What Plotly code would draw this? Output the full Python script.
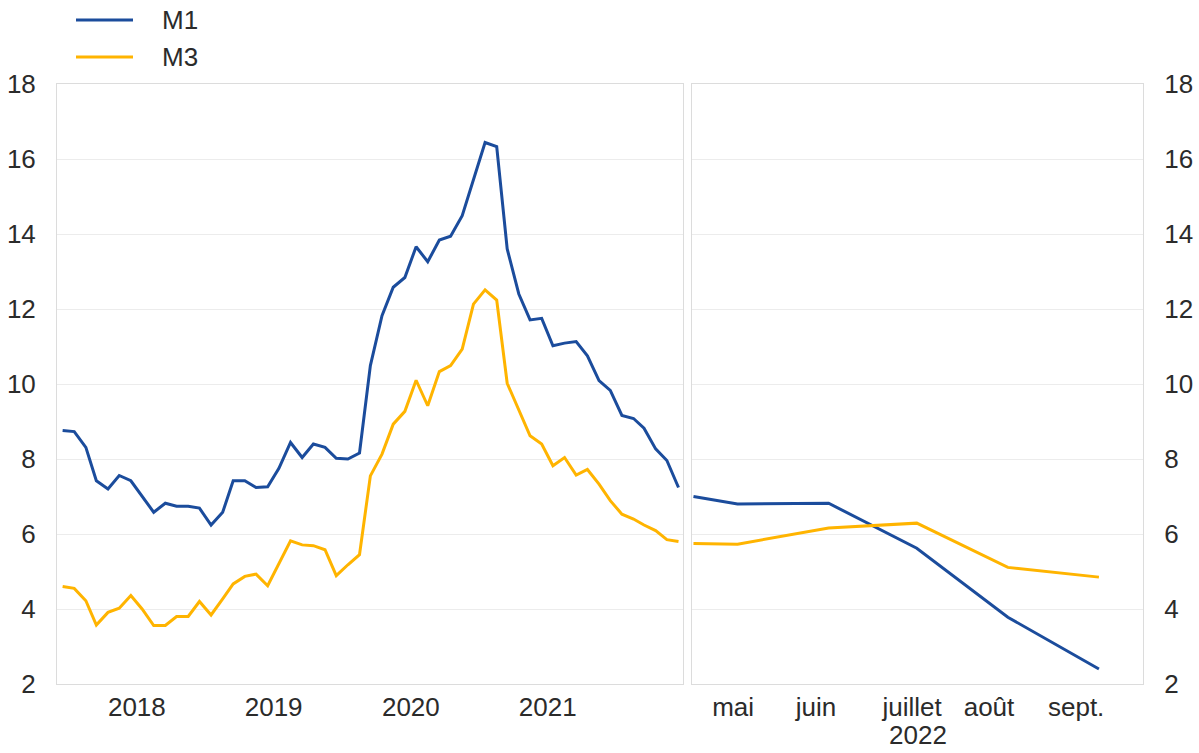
import pandas as pd
import plotly.graph_objects as go

# ---------------- data ----------------
left_months = pd.date_range("2017-12-01", "2022-06-01", freq="MS") + pd.Timedelta(days=14)

m1_left = [8.76, 8.73, 8.31, 7.42, 7.20, 7.56, 7.42, 7.02, 6.58, 6.82, 6.74, 6.74, 6.69,
           6.24, 6.58, 7.42, 7.42, 7.24, 7.26, 7.75, 8.44, 8.04, 8.40, 8.31, 8.02,
           8.00, 8.16, 10.49, 11.82, 12.58, 12.84, 13.66, 13.26, 13.84, 13.94, 14.49, 15.47,
           16.44, 16.33, 13.60, 12.40, 11.71, 11.75, 11.02, 11.09, 11.13, 10.75, 10.09, 9.83,
           9.16, 9.08, 8.82, 8.27, 7.96, 7.24]
m3_left = [4.60, 4.55, 4.22, 3.57, 3.91, 4.02, 4.36, 4.00, 3.56, 3.56, 3.80, 3.80, 4.20,
           3.84, 4.27, 4.67, 4.87, 4.93, 4.62, 5.20, 5.82, 5.71, 5.69, 5.58, 4.89,
           5.18, 5.45, 7.55, 8.13, 8.93, 9.27, 10.10, 9.42, 10.33, 10.49, 10.93, 12.13,
           12.51, 12.24, 10.02, 9.33, 8.62, 8.40, 7.82, 8.04, 7.57, 7.72, 7.33, 6.89,
           6.53, 6.40, 6.24, 6.09, 5.85, 5.80]

right_dates = ["2022-04-16", "2022-05-01", "2022-06-01", "2022-07-01", "2022-08-01", "2022-09-01"]
m1_right = [7.00, 6.80, 6.82, 5.62, 3.78, 2.40]
m3_right = [5.75, 5.73, 6.16, 6.29, 5.11, 4.85]

year_ticks = ["2018-07-01", "2019-07-01", "2020-07-01", "2021-07-01"]
year_labels = ["2018", "2019", "2020", "2021"]
month_ticks = ["2022-04-29T12:00", "2022-05-27T16:00", "2022-06-29T10:00", "2022-07-25T14:00", "2022-08-24T06:00"]
month_labels = ["mai", "juin", "juillet", "août", "sept."]
y_ticks = [2, 4, 6, 8, 10, 12, 14, 16, 18]
series_names = ["M1", "M3"]

# ---------------- style ----------------
BLUE = "#1b4c9c"
YELLOW = "#ffb400"
TXT = "#2b2b2b"
FRAME = "#dcdcdc"
GRID = "#ececec"
FONT = "Liberation Sans, Arial, sans-serif"
FS = 26

fig = go.Figure()
fig.add_trace(go.Scatter(x=left_months, y=m1_left, mode="lines", name="M1",
                         line=dict(color=BLUE, width=3), xaxis="x", yaxis="y", showlegend=False))
fig.add_trace(go.Scatter(x=left_months, y=m3_left, mode="lines", name="M3",
                         line=dict(color=YELLOW, width=3), xaxis="x", yaxis="y", showlegend=False))
fig.add_trace(go.Scatter(x=right_dates, y=m1_right, mode="lines", name="M1",
                         line=dict(color=BLUE, width=3), xaxis="x2", yaxis="y2", showlegend=False))
fig.add_trace(go.Scatter(x=right_dates, y=m3_right, mode="lines", name="M3",
                         line=dict(color=YELLOW, width=3), xaxis="x2", yaxis="y2", showlegend=False))

W, H = 1199, 753
ml, mr, mt, mb = 57, 56, 84, 69
pw = W - ml - mr
ph = H - mt - mb
left_end = (683 - ml) / pw
right_start = (692 - ml) / pw

axis_common = dict(showline=True, mirror=True, linecolor=FRAME, linewidth=1, automargin=False,
                   tickfont=dict(family=FONT, size=FS, color=TXT), zeroline=False)

fig.update_layout(
    width=W, height=H,
    margin=dict(l=ml, r=mr, t=mt, b=mb, autoexpand=False),
    paper_bgcolor="white", plot_bgcolor="white",
    font=dict(family=FONT, size=FS, color=TXT),
    xaxis=dict(domain=[0, left_end], type="date", range=["2017-11-30", "2022-06-27"],
               tickmode="array", tickvals=year_ticks, ticktext=year_labels,
               showgrid=False, ticks="", anchor="y", ticklabelstandoff=0, **axis_common),
    yaxis=dict(domain=[0, 1], range=[2, 18], tickmode="array", tickvals=y_ticks,
               showgrid=True, gridcolor=GRID, gridwidth=1, anchor="x", ticks="",
               ticklabelstandoff=15, **axis_common),
    xaxis2=dict(domain=[right_start, 1], type="date", range=["2022-04-15T12:00", "2022-09-16"],
                tickmode="array", tickvals=month_ticks, ticktext=month_labels,
                showgrid=False, ticks="", anchor="y2", ticklabelstandoff=0, **axis_common),
    yaxis2=dict(domain=[0, 1], range=[2, 18], tickmode="array", tickvals=y_ticks,
                showgrid=True, gridcolor=GRID, gridwidth=1, anchor="x2", side="right",
                ticks="", ticklabelstandoff=15, **axis_common),
    showlegend=False,
)

# year label under the right panel
fig.add_annotation(text="2022", xref="x2 domain", yref="paper", x=0.5, y=-(735 - (mt + ph)) / ph,
                   showarrow=False, font=dict(family=FONT, size=FS, color=TXT), yanchor="middle")

# manual legend (long line samples like the reference)
colors = [BLUE, YELLOW]
for i, (name, col) in enumerate(zip(series_names, colors)):
    ypx = 20 + i * 37
    yp = (mt + ph - ypx) / ph
    fig.add_shape(type="line", xref="paper", yref="paper",
                  x0=(76 - ml) / pw, x1=(133 - ml) / pw, y0=yp, y1=yp,
                  line=dict(color=col, width=3))
    fig.add_annotation(text=name, xref="paper", yref="paper", x=(160 - ml) / pw, y=yp,
                       xanchor="left", yanchor="middle", showarrow=False,
                       font=dict(family=FONT, size=FS, color=TXT))

fig.write_html("out.html", config={"responsive": False, "displayModeBar": False},
               post_script="document.body.style.margin='0px';document.body.style.overflow='hidden';")
